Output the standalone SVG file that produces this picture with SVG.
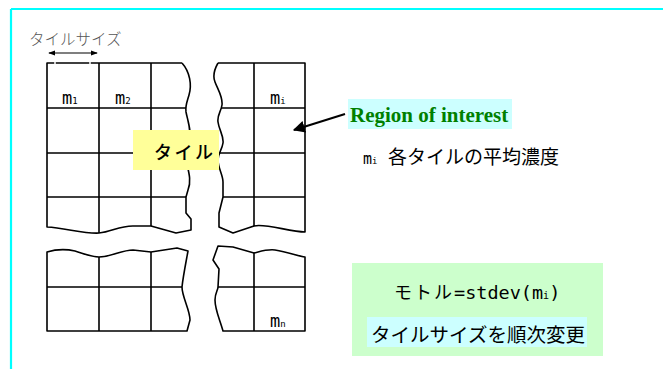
<svg xmlns="http://www.w3.org/2000/svg" width="663" height="369" viewBox="0 0 663 369">
<style>
.g{fill:none;stroke:#000;stroke-width:1.6;stroke-linejoin:round}
.jp{font-family:"Noto Sans CJK JP","Noto Sans",sans-serif;fill:#000}
.mn{font-family:"DejaVu Sans Mono","Liberation Mono",monospace;fill:#000}
.roi{font-family:"Liberation Serif","Times New Roman",serif;font-weight:bold;fill:#008000}
</style>
<defs>
<marker id="dh" viewBox="0 0 8 8" refX="7" refY="4" markerWidth="7" markerHeight="7" orient="auto-start-reverse" markerUnits="userSpaceOnUse">
<path d="M0,1 L8,4 L0,7 Z" fill="#000"/>
</marker>
<marker id="ah" viewBox="0 0 10 10" refX="9" refY="5" markerWidth="12" markerHeight="12" orient="auto" markerUnits="userSpaceOnUse">
<path d="M0,0 L10,5 L0,10 Z" fill="#000"/>
</marker>
</defs>
<rect width="663" height="369" fill="#fff"/>
<g id="frame">
<line x1="11" y1="9" x2="663" y2="9" stroke="#00ffff" stroke-width="2.2"/>
<line x1="11" y1="9" x2="11" y2="369" stroke="#00ffff" stroke-width="2.2"/>
</g>
<g id="block-top-left">
<path class="g" d="M182,63 L47,63 L47,227 C65,228 85,234 99,233 C112,232 120,225 135,226 L151,226 L176,233 L191,230 L191,219 L186,213 L186,197 L188,190 C192,180 188,170 186,160 C185,152 187,148 189,142 C192,132 188,122 186,112 C185,106 187,102 189,95 C192,85 190,72 182,63"/>
<path class="g" d="M99,63 V233 M151,63 V226 M47,108 H186 M47,153 H186 M47,197 H186"/>
</g>
<g id="block-top-right">
<path class="g" d="M218,63 L305,63 L305,232 C290,232 265,223 254,226 L233,233 L219,227 L219,213 L223,197 L223,182 C223,175 218,168 218,160 C218,153 222,150 223,143 C224,136 219,130 218,122 C217,115 221,112 222,105 C223,97 218,90 215,82 C213,77 214,70 218,63"/>
<path class="g" d="M254,63 V226 M221,108 H305 M218,153 H305 M223,197 H305"/>
</g>
<g id="block-bottom-left">
<path class="g" d="M47,252 C57,249 66,249 75,251 C85,254 92,257 99,257 C110,257 122,250 133,250 L151,252 L177,248 L188,251 C186,262 183,277 182,287 C182,297 190,310 190,320 L187,331 L47,331 Z"/>
<path class="g" d="M99,257 V331 M151,252 V331 M47,287 H182"/>
</g>
<g id="block-bottom-right">
<path class="g" d="M218,246 L233,247 L254,253 C262,251 268,249 275,250 C288,252 298,256 305,257 L305,331 L223,331 C220,320 215,310 215,300 C215,293 218,290 218,287 L219,269 L213,260 Z"/>
<path class="g" d="M254,253 V331 M218,287 H305"/>
</g>
<g id="tile-labels">
<text class="mn" x="62" y="104" font-size="17">m<tspan font-size="9">1</tspan></text>
<text class="mn" x="115" y="104" font-size="17">m<tspan font-size="9">2</tspan></text>
<text class="mn" x="270" y="104" font-size="17">m<tspan font-size="9">i</tspan></text>
<text class="mn" x="270" y="327" font-size="17">m<tspan font-size="9">n</tspan></text>
</g>
<g id="tile-size-label">
<text class="jp" x="29" y="45" font-size="15.5" font-weight="300" style="fill:#555">タイルサイズ</text>
</g>
<g id="tile-box">
<rect x="133" y="130" width="86" height="40" fill="#ffff99"/>
<text class="jp" x="154" y="159" font-size="18" letter-spacing="2.5" font-weight="500">タイル</text>
</g>
<g id="roi-label">
<rect x="348" y="99" width="164" height="30" fill="#ccffff"/>
<text class="roi" x="350" y="122" font-size="21">Region of interest</text>
</g>
<g id="mi-desc">
<text class="jp" x="363" y="164" font-size="19"><tspan class="mn" font-size="15">m</tspan><tspan class="mn" font-size="9">i</tspan><tspan x="388">各タイルの平均濃度</tspan></text>
</g>
<g id="formula-box">
<rect x="352" y="263" width="251" height="93" fill="#ccffcc"/>
<text class="jp" x="394" y="299" font-size="18"><tspan letter-spacing="2">モトル</tspan><tspan class="mn" font-size="18.5">=stdev(m</tspan><tspan class="mn" font-size="10">i</tspan><tspan class="mn" font-size="18.5">)</tspan></text>
<rect x="367" y="317" width="220" height="30" fill="#ccffff"/>
<text class="jp" x="371" y="342" font-size="19.5">タイルサイズを順次変更</text>
</g>
<g id="connectors">
<line x1="49" y1="53" x2="97" y2="53" stroke="#000" stroke-width="1.2" marker-start="url(#dh)" marker-end="url(#dh)"/>
<path d="M55,61 V65 M90,61 V65" stroke="#fff" stroke-width="1.5"/>
<line x1="345" y1="114" x2="294" y2="130" stroke="#000" stroke-width="2.2" marker-end="url(#ah)"/>
</g>
</svg>
